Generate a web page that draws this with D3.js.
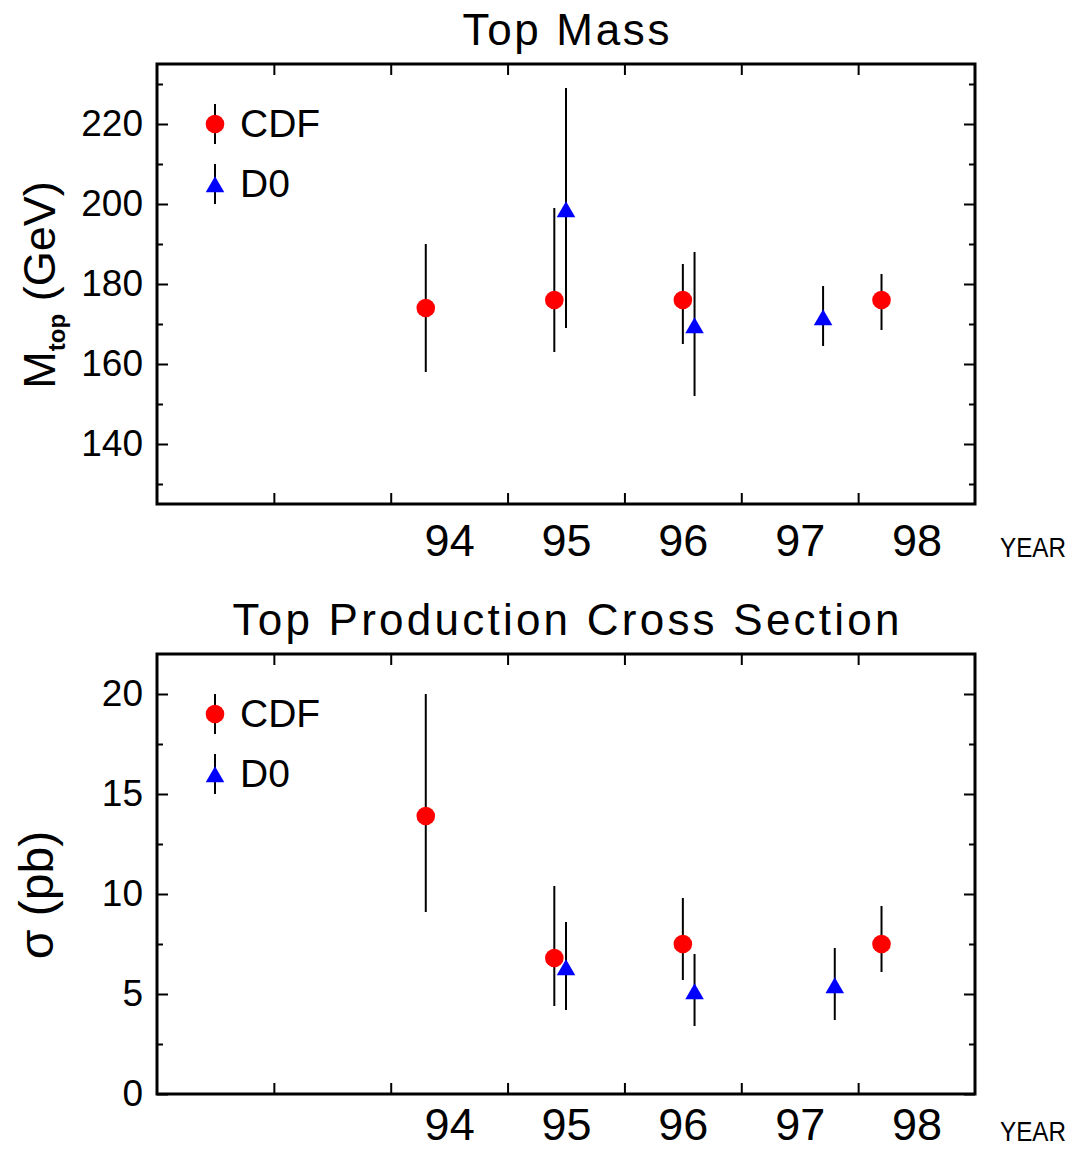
<!DOCTYPE html>
<html>
<head>
<meta charset="utf-8">
<script src="https://cdn.jsdelivr.net/npm/d3@7"></script>
<style>
  body { margin: 0; background: #fff; }
  text { font-family: "Liberation Sans", Arial, sans-serif; fill: #000; }
</style>
</head>
<body>
<svg width="1079" height="1150"></svg>
<script>
// year axis (tick marks at year starts, labels centred in the year)
const yearTicks = [93, 94, 95, 96, 97, 98];
const yearLabels = [94, 95, 96, 97, 98];

// top mass (GeV)
const massCdfYear = [94.3, 95.4, 96.5, 98.2];
const massCdf     = [174, 176, 176, 176];
const massCdfHi   = [190, 199, 185, 182.5];
const massCdfLo   = [158, 163, 165, 168.5];
const massD0Year  = [95.5, 96.6, 97.7];
const massD0      = [198, 169, 171];
const massD0Hi    = [229, 188, 179.5];
const massD0Lo    = [169, 152, 164.5];
const massMajor   = [140, 160, 180, 200, 220];
const massMinor   = [130, 150, 170, 190, 210, 230];

// cross section (pb)
const xsecCdfYear = [94.3, 95.4, 96.5, 98.2];
const xsecCdf     = [13.9, 6.8, 7.5, 7.5];
const xsecCdfHi   = [20, 10.4, 9.8, 9.4];
const xsecCdfLo   = [9.1, 4.4, 5.7, 6.1];
const xsecD0Year  = [95.5, 96.6, 97.8];
const xsecD0      = [6.2, 5.0, 5.3];
const xsecD0Hi    = [8.6, 7.0, 7.3];
const xsecD0Lo    = [4.2, 3.4, 3.7];
const xsecMajor   = [0, 5, 10, 15, 20];
const xsecMinor   = [2.5, 7.5, 12.5, 17.5];

var svg = d3.select("svg");
const w = 818, h = 440;

var x = d3.scaleLinear().domain([92, 99]).range([0, w]);
var triangle = d3.symbol().type(d3.symbolTriangle).size(150);

function toPoints(years, vals, hi, lo) {
    return years.map((yr, i) => ({x: yr, y: vals[i], hi: hi[i], lo: lo[i]}));
}

function drawPanel(cfg) {
    var g = svg.append("g").attr("transform", "translate(157," + cfg.top + ")");
    var y = d3.scaleLinear().domain(cfg.domain).range([h, 0]);

    //ticks on all four sides, pointing inwards
    function tickAxis(axis, tx, ty) {
        var a = g.append("g").attr("transform", "translate(" + tx + "," + ty + ")").call(axis);
        a.select(".domain").remove();
        a.selectAll("line").attr("stroke", "#000").attr("stroke-width", 2);
        return a;
    }
    tickAxis(d3.axisLeft(y).tickValues(cfg.major).tickSize(-11).tickFormat(""), 0, 0);
    tickAxis(d3.axisLeft(y).tickValues(cfg.minor).tickSize(-6).tickFormat(""), 0, 0);
    tickAxis(d3.axisRight(y).tickValues(cfg.major).tickSize(-11).tickFormat(""), w, 0);
    tickAxis(d3.axisRight(y).tickValues(cfg.minor).tickSize(-6).tickFormat(""), w, 0);
    tickAxis(d3.axisBottom(x).tickValues(yearTicks).tickSize(-11).tickFormat(""), 0, h);
    tickAxis(d3.axisTop(x).tickValues(yearTicks).tickSize(-11).tickFormat(""), 0, 0);

    //y labels
    var yl = g.append("g").call(d3.axisLeft(y).tickValues(cfg.major).tickSize(0).tickPadding(14));
    yl.select(".domain").remove();
    yl.selectAll("text").style("font-size", "37px").attr("font-family", null);

    //year labels sit in the middle of each year
    var xl = g.append("g").attr("transform", "translate(0," + h + ")")
        .call(d3.axisBottom(x).tickValues(yearLabels.map(d => d + 0.5)).tickSize(0)
            .tickPadding(cfg.labelPad).tickFormat(d => Math.floor(d)));
    xl.select(".domain").remove();
    xl.selectAll("text").style("font-size", "45px").attr("font-family", null);

    g.append("text").attr("x", w + 25).attr("y", h + cfg.labelPad + 33)
        .attr("textLength", 66).attr("lengthAdjust", "spacingAndGlyphs")
        .style("font-size", "27px").text("YEAR");

    //frame
    g.append("rect").attr("width", w).attr("height", h)
        .attr("fill", "none").attr("stroke", "#000").attr("stroke-width", 3);

    //title
    g.append("text").attr("x", w / 2).attr("y", -19).attr("text-anchor", "middle")
        .attr("textLength", cfg.titleLen).attr("lengthAdjust", "spacing")
        .style("font-size", "44px").text(cfg.title);

    //error bars first, markers on top
    var cdf = toPoints(cfg.cdfYear, cfg.cdf, cfg.cdfHi, cfg.cdfLo);
    var d0 = toPoints(cfg.d0Year, cfg.d0, cfg.d0Hi, cfg.d0Lo);
    g.append("g").selectAll("line").data(cdf.concat(d0)).enter().append("line")
        .attr("x1", d => x(d.x)).attr("x2", d => x(d.x))
        .attr("y1", d => y(d.hi)).attr("y2", d => y(d.lo))
        .attr("stroke", "#000").attr("stroke-width", 2);
    g.append("g").selectAll("circle").data(cdf).enter().append("circle")
        .attr("cx", d => x(d.x)).attr("cy", d => y(d.y)).attr("r", 9.3)
        .attr("fill", "#ff0000");
    g.append("g").selectAll("path").data(d0).enter().append("path")
        .attr("d", triangle)
        .attr("transform", d => "translate(" + x(d.x) + "," + y(d.y) + ")")
        .attr("fill", "#0000ff");

    //legend
    var lg = g.append("g").attr("transform", "translate(58," + cfg.legendY + ")");
    [0, 60].forEach(dy => {
        lg.append("line").attr("x1", 0).attr("x2", 0).attr("y1", dy - 20).attr("y2", dy + 20)
            .attr("stroke", "#000").attr("stroke-width", 2);
    });
    lg.append("circle").attr("cx", 0).attr("cy", 0).attr("r", 9.3).attr("fill", "#ff0000");
    lg.append("path").attr("d", triangle).attr("transform", "translate(0,63)").attr("fill", "#0000ff");
    lg.append("text").attr("x", 25).attr("y", 13).style("font-size", "39px").text("CDF");
    lg.append("text").attr("x", 25).attr("y", 73).style("font-size", "39px").text("D0");

    return g;
}

//top mass panel
var g1 = drawPanel({
    top: 64, domain: [125, 235], major: massMajor, minor: massMinor,
    title: "Top Mass", titleLen: 207, legendY: 60, labelPad: 20,
    cdfYear: massCdfYear, cdf: massCdf, cdfHi: massCdfHi, cdfLo: massCdfLo,
    d0Year: massD0Year, d0: massD0, d0Hi: massD0Hi, d0Lo: massD0Lo
});
var t1 = g1.append("text").attr("transform", "translate(-102,221) rotate(-90)")
    .attr("text-anchor", "middle").style("font-size", "45px");
t1.append("tspan").text("M");
t1.append("tspan").attr("dy", 10).style("font-size", "24px").style("font-weight", "bold").text("top");
t1.append("tspan").attr("dy", -10).text(" (GeV)");

//cross section panel
var g2 = drawPanel({
    top: 654, domain: [0, 22], major: xsecMajor, minor: xsecMinor,
    title: "Top Production Cross Section", titleLen: 667, legendY: 60, labelPad: 14,
    cdfYear: xsecCdfYear, cdf: xsecCdf, cdfHi: xsecCdfHi, cdfLo: xsecCdfLo,
    d0Year: xsecD0Year, d0: xsecD0, d0Hi: xsecD0Hi, d0Lo: xsecD0Lo
});
g2.append("text").attr("transform", "translate(-104,241) rotate(-90)")
    .attr("text-anchor", "middle").style("font-size", "48px").text("σ (pb)");
</script>
</body>
</html>
